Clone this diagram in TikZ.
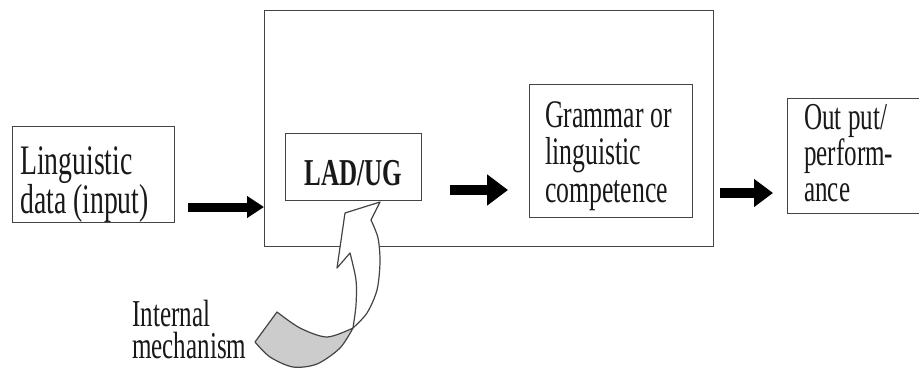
\documentclass[tikz,border=0pt]{standalone}
\usepackage{fontspec}
\setmainfont{Liberation Serif}[FakeStretch=0.66]
\usetikzlibrary{arrows.meta}
\definecolor{edge}{HTML}{444444}
\definecolor{tailgray}{HTML}{CCCCCC}
\begin{document}
\begin{tikzpicture}[x=1pt,y=-1pt,
  box/.style={draw=edge,line width=1.4pt,inner sep=0pt,anchor=north west},
  txt/.style={anchor=base west,inner sep=0pt,align=flush left,text width=160pt,text=black!90}
]
\fill[white] (0,0) rectangle (919,372);
\useasboundingbox (0,0) rectangle (919,372);

% boxes
\node[box,minimum width=162pt,minimum height=96pt] (ling) at (12,126) {};
\node[box,minimum width=449pt,minimum height=236pt] (big) at (264,10) {};
\node[box,minimum width=136pt,minimum height=67pt] (lad) at (285,133) {};
\node[box,minimum width=163pt,minimum height=133pt] (gram) at (529,84) {};
\node[box,minimum width=140pt,minimum height=115pt] (outb) at (787,98) {};

% texts
\node[txt,font={\fontsize{42}{37}\selectfont}] (lingt) at (20,174) {Linguistic\\data (input)};
\node[anchor=base,inner sep=0pt,text=black!90,font={\fontsize{38}{37}\selectfont\bfseries}] (ladt) at (353.5,185) {LAD/UG};
\node[txt,font={\fontsize{39}{37.5}\selectfont}] (gramt) at (545,127) {Grammar or\\linguistic\\competence};
\node[txt,font={\fontsize{38}{36}\selectfont}] (outt) at (804,129) {Out put/\\perform-\\ance};
\node[txt,font={\fontsize{38}{32}\selectfont}] (intt) at (132,326) {Internal\\mechanism};

% straight arrows
\coordinate (a1s) at (188,207);
\coordinate (a2s) at (450,190);
\coordinate (a2e) at (508,190);
\coordinate (a3s) at (720,193);
\coordinate (a3e) at (773,193);
\draw[line width=9pt,-{Triangle[length=17pt,width=21pt]}] (a1s) -- (big.west |- a1s);
\draw[line width=10pt,-{Triangle[length=21pt,width=30pt]}] (a2s) -- (a2e);
\draw[line width=10pt,-{Triangle[length=19pt,width=27pt]}] (a3s) -- (a3e);

% curved arrow (internal mechanism)
\draw[edge,line width=1.2pt,fill=tailgray,line join=round]
  (255,342) -- (277,312)
  -- plot[smooth] coordinates {(277,312) (300,328) (327,337) (353,328)}
  -- plot[smooth] coordinates {(353,328) (340,348) (317,364) (293,367) (270,357) (255,342)}
  -- cycle;
\draw[edge,line width=1.2pt,fill=white,line join=round]
  (380,202) -- (345,213) -- (337,268) -- (350,253)
  -- plot[smooth] coordinates {(350,253) (356,280) (356,305) (353,328)}
  -- plot[smooth] coordinates {(353,328) (367,313) (377,290) (380,262) (378,238) (371,220)}
  -- cycle;
\end{tikzpicture}
\end{document}
